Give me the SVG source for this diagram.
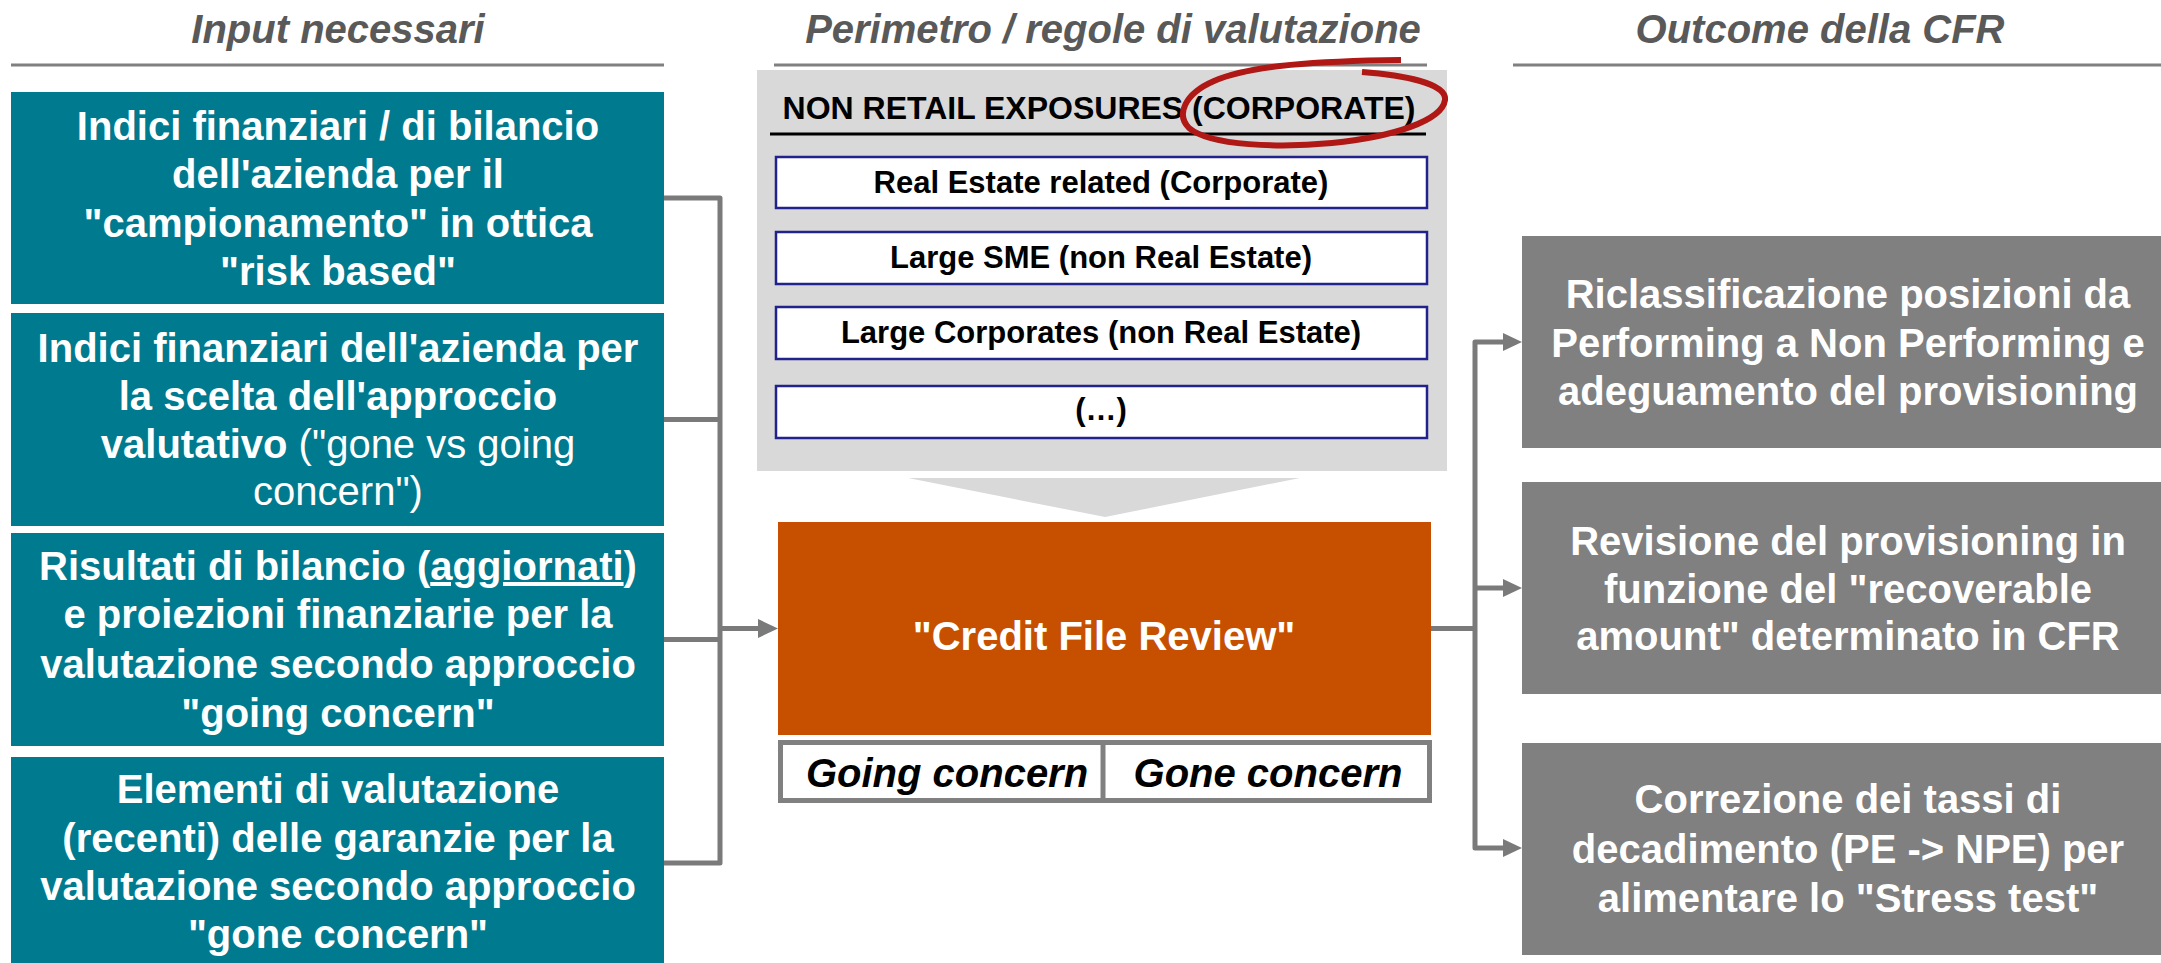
<svg xmlns="http://www.w3.org/2000/svg" width="2161" height="963" viewBox="0 0 2161 963">
  <style>
    text { font-family: "Liberation Sans", Arial, sans-serif; font-weight: bold; text-anchor: middle; }
    .hdr { font-size: 40px; font-style: italic; fill: #595959; }
    .rule { stroke: #808080; stroke-width: 3; }
    .teal { fill: #007A8E; }
    .grey { fill: #808080; }
    .wt { font-size: 40px; fill: #FFFFFF; }
    .reg { font-weight: normal; }
    .item { fill: #FFFFFF; stroke: #22228C; stroke-width: 2.5; }
    .itxt { font-size: 31px; fill: #000000; }
    .conn { fill: none; stroke: #7A7A7A; stroke-width: 5; stroke-linejoin: round; }
    .head { fill: #7A7A7A; }
  </style>

  <!-- column headers -->
  <g id="headers">
    <text class="hdr" x="338" y="43">Input necessari</text>
    <line class="rule" x1="11" y1="65" x2="664" y2="65"/>
    <text class="hdr" x="1113" y="43">Perimetro / regole di valutazione</text>
    <line class="rule" x1="774" y1="65" x2="1427" y2="65"/>
    <text class="hdr" x="1820" y="43">Outcome della CFR</text>
    <line class="rule" x1="1513" y1="65" x2="2161" y2="65"/>
  </g>

  <!-- inputs -->
  <g id="input-1">
    <rect class="teal" x="11" y="92" width="653" height="212"/>
    <text class="wt" x="338" y="140">Indici finanziari / di bilancio</text>
    <text class="wt" x="338" y="188">dell'azienda per il</text>
    <text class="wt" x="338" y="237">"campionamento" in ottica</text>
    <text class="wt" x="338" y="285">"risk based"</text>
  </g>
  <g id="input-2">
    <rect class="teal" x="11" y="313" width="653" height="213"/>
    <text class="wt" x="338" y="362">Indici finanziari dell'azienda per</text>
    <text class="wt" x="338" y="410">la scelta dell'approccio</text>
    <text class="wt" x="338" y="458">valutativo<tspan class="reg"> ("gone vs going</tspan></text>
    <text class="wt reg" x="338" y="505">concern")</text>
  </g>
  <g id="input-3">
    <rect class="teal" x="11" y="533" width="653" height="213"/>
    <text class="wt" x="338" y="580">Risultati di bilancio (<tspan text-decoration="underline">aggiornati</tspan>)</text>
    <text class="wt" x="338" y="628">e proiezioni finanziarie per la</text>
    <text class="wt" x="338" y="678">valutazione secondo approccio</text>
    <text class="wt" x="338" y="727">"going concern"</text>
  </g>
  <g id="input-4">
    <rect class="teal" x="11" y="757" width="653" height="212"/>
    <text class="wt" x="338" y="803">Elementi di valutazione</text>
    <text class="wt" x="338" y="852">(recenti) delle garanzie per la</text>
    <text class="wt" x="338" y="900">valutazione secondo approccio</text>
    <text class="wt" x="338" y="948">"gone concern"</text>
  </g>

  <!-- perimeter panel -->
  <g id="perimeter">
    <rect x="757" y="70" width="690" height="401" fill="#D9D9D9"/>
    <text class="itxt" x="1099" y="119" style="font-size:32px">NON RETAIL EXPOSURES (CORPORATE)</text>
    <line x1="770" y1="134" x2="1426" y2="134" stroke="#000000" stroke-width="3"/>
    <rect class="item" x="776" y="157" width="651" height="51"/>
    <text class="itxt" x="1101" y="193">Real Estate related (Corporate)</text>
    <rect class="item" x="776" y="232" width="651" height="52"/>
    <text class="itxt" x="1101" y="268">Large SME (non Real Estate)</text>
    <rect class="item" x="776" y="307" width="651" height="52"/>
    <text class="itxt" x="1101" y="343">Large Corporates (non Real Estate)</text>
    <rect class="item" x="776" y="386" width="651" height="52"/>
    <text class="itxt" x="1101" y="420">(…)</text>
    <polygon points="908,478 1300,478 1105,517" fill="#D9D9D9"/>
    <!-- hand-drawn highlight loop around "(CORPORATE)" -->
    <path d="M1401,60 C1320,61 1250,65 1214,81 C1184,94 1176,115 1189,128 C1210,146 1280,148 1332,143 C1392,137 1442,121 1445,100 C1447,83 1402,75 1362,72" fill="none" stroke="#B01815" stroke-width="6" stroke-linecap="butt"/>
  </g>

  <!-- credit file review -->
  <g id="cfr">
    <rect x="778" y="522" width="653" height="213" fill="#C75000"/>
    <text class="wt" x="1104" y="650">"Credit File Review"</text>
  </g>
  <g id="approaches">
    <rect x="780.5" y="742.5" width="649" height="58" fill="#FFFFFF" stroke="#808080" stroke-width="5"/>
    <line x1="1103" y1="742" x2="1103" y2="801" stroke="#808080" stroke-width="5"/>
    <text x="947" y="787" style="font-size:40px;font-style:italic;fill:#000">Going concern</text>
    <text x="1268" y="787" style="font-size:40px;font-style:italic;fill:#000">Gone concern</text>
  </g>

  <!-- outcomes -->
  <g id="outcome-1">
    <rect class="grey" x="1522" y="236" width="650" height="212"/>
    <text class="wt" x="1848" y="308">Riclassificazione posizioni da</text>
    <text class="wt" x="1848" y="357">Performing a Non Performing e</text>
    <text class="wt" x="1848" y="405">adeguamento del provisioning</text>
  </g>
  <g id="outcome-2">
    <rect class="grey" x="1522" y="482" width="650" height="212"/>
    <text class="wt" x="1848" y="555">Revisione del provisioning in</text>
    <text class="wt" x="1848" y="603">funzione del "recoverable</text>
    <text class="wt" x="1848" y="650">amount" determinato in CFR</text>
  </g>
  <g id="outcome-3">
    <rect class="grey" x="1522" y="743" width="650" height="212"/>
    <text class="wt" x="1848" y="813">Correzione dei tassi di</text>
    <text class="wt" x="1848" y="863">decadimento (PE -&gt; NPE) per</text>
    <text class="wt" x="1848" y="912">alimentare lo "Stress test"</text>
  </g>

  <!-- connectors -->
  <g id="connectors">
    <path class="conn" d="M664,198 H720 V863 H664"/>
    <path class="conn" d="M664,419.5 H720"/>
    <path class="conn" d="M664,639.5 H720"/>
    <path class="conn" d="M720,628.5 H760"/>
    <polygon class="head" points="758,619 778,628.5 758,638"/>

    <path class="conn" d="M1431,628.5 H1475"/>
    <path class="conn" d="M1505,342 H1475 V848 H1505"/>
    <path class="conn" d="M1475,588 H1505"/>
    <polygon class="head" points="1503,333 1522,342 1503,351"/>
    <polygon class="head" points="1503,579 1522,588 1503,597"/>
    <polygon class="head" points="1503,839 1522,848 1503,857"/>
  </g>
</svg>
